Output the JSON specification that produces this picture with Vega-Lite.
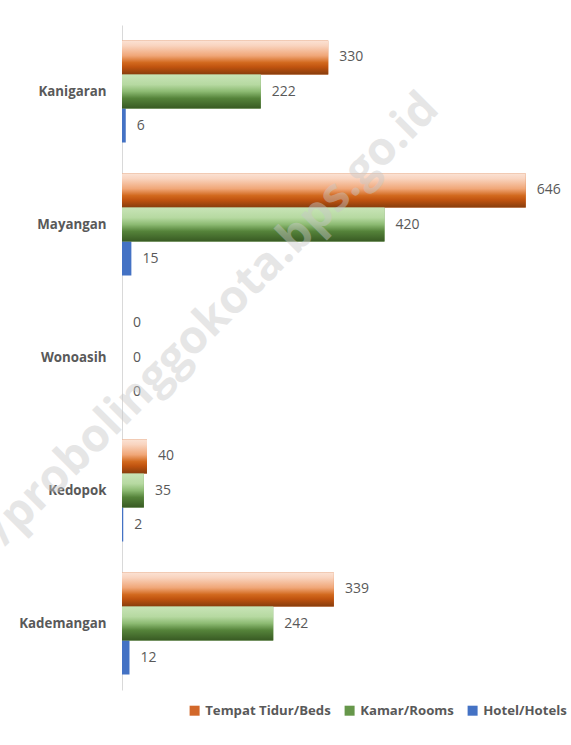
{
  "$schema": "https://vega.github.io/schema/vega-lite/v6.json",
  "width": 437.5,
  "height": 665,
  "autosize": {"type": "none"},
  "padding": {"left": 122, "top": 25, "right": 11.5, "bottom": 55},
  "background": "white",
  "datasets": {
    "main": [
      {"cat": "Kanigaran", "series": "Tempat Tidur/Beds", "value": 330},
      {"cat": "Kanigaran", "series": "Kamar/Rooms", "value": 222},
      {"cat": "Kanigaran", "series": "Hotel/Hotels", "value": 6},
      {"cat": "Mayangan", "series": "Tempat Tidur/Beds", "value": 646},
      {"cat": "Mayangan", "series": "Kamar/Rooms", "value": 420},
      {"cat": "Mayangan", "series": "Hotel/Hotels", "value": 15},
      {"cat": "Wonoasih", "series": "Tempat Tidur/Beds", "value": 0},
      {"cat": "Wonoasih", "series": "Kamar/Rooms", "value": 0},
      {"cat": "Wonoasih", "series": "Hotel/Hotels", "value": 0},
      {"cat": "Kedopok", "series": "Tempat Tidur/Beds", "value": 40},
      {"cat": "Kedopok", "series": "Kamar/Rooms", "value": 35},
      {"cat": "Kedopok", "series": "Hotel/Hotels", "value": 2},
      {"cat": "Kademangan", "series": "Tempat Tidur/Beds", "value": 339},
      {"cat": "Kademangan", "series": "Kamar/Rooms", "value": 242},
      {"cat": "Kademangan", "series": "Hotel/Hotels", "value": 12}
    ],
    "mark": [
      {"cat": "Kanigaran", "value": 510, "label": "https://probolinggokota.bps.go.id"}
    ]
  },
  "layer": [
    {
      "data": {"name": "main"},
      "mark": {"type": "bar"},
      "encoding": {
        "y": {
          "field": "cat", "type": "nominal",
          "sort": ["Kanigaran", "Mayangan", "Wonoasih", "Kedopok", "Kademangan"],
          "scale": {"domain": ["Kanigaran", "Mayangan", "Wonoasih", "Kedopok", "Kademangan"], "paddingInner": 0.233, "paddingOuter": 0.1165},
          "axis": {"title": null, "domainColor": "#d9d9d9", "domainWidth": 1, "ticks": false, "tickSize": 0, "labelPadding": 16, "labelFont": "Open Sans", "labelFontWeight": "bold", "labelFontSize": 13.3, "labelColor": "#595959", "grid": false}
        },
        "yOffset": {
          "field": "series", "type": "nominal",
          "scale": {"domain": ["Tempat Tidur/Beds", "Kamar/Rooms", "Hotel/Hotels"], "paddingInner": 0, "paddingOuter": 0}
        },
        "x": {
          "field": "value", "type": "quantitative",
          "scale": {"domain": [0, 700], "nice": false},
          "axis": null
        },
        "color": {
          "field": "series", "type": "nominal",
          "scale": {"domain": ["Tempat Tidur/Beds", "Kamar/Rooms", "Hotel/Hotels"], "range": ["#d2682a", "#66974a", "#4472c4"]},
          "legend": {
            "orient": "none", "legendX": 66, "legendY": 679, "direction": "horizontal",
            "title": null, "symbolType": "square", "symbolSize": 100, "symbolStrokeWidth": 0,
            "labelFont": "Open Sans", "labelFontWeight": "bold", "labelFontSize": 13.2, "labelColor": "#595959",
            "labelOffset": 4, "columnPadding": 12, "padding": 0, "labelLimit": 200
          }
        }
      }
    },
    {
      "data": {"name": "main"},
      "transform": [{"filter": "datum.series === 'Tempat Tidur/Beds'"}],
      "mark": {"type": "bar", "color": {"gradient": "linear", "x1": 0, "y1": 0, "x2": 0, "y2": 1, "stops": [{"offset": 0, "color": "#fbe2d4"}, {"offset": 0.15, "color": "#f9d4bf"}, {"offset": 0.45, "color": "#f0a677"}, {"offset": 0.65, "color": "#d2691e"}, {"offset": 0.78, "color": "#c0530f"}, {"offset": 1, "color": "#873d0d"}]}},
      "encoding": {
        "y": {"field": "cat", "type": "nominal", "sort": ["Kanigaran", "Mayangan", "Wonoasih", "Kedopok", "Kademangan"]},
        "yOffset": {"field": "series", "type": "nominal", "scale": {"domain": ["Tempat Tidur/Beds", "Kamar/Rooms", "Hotel/Hotels"]}},
        "x": {"field": "value", "type": "quantitative", "axis": null}
      }
    },
    {
      "data": {"name": "main"},
      "transform": [{"filter": "datum.series === 'Kamar/Rooms'"}],
      "mark": {"type": "bar", "color": {"gradient": "linear", "x1": 0, "y1": 0, "x2": 0, "y2": 1, "stops": [{"offset": 0, "color": "#c8e4b7"}, {"offset": 0.3, "color": "#b6d9a1"}, {"offset": 0.5, "color": "#8cba72"}, {"offset": 0.7, "color": "#55833a"}, {"offset": 1, "color": "#385a23"}]}},
      "encoding": {
        "y": {"field": "cat", "type": "nominal", "sort": ["Kanigaran", "Mayangan", "Wonoasih", "Kedopok", "Kademangan"]},
        "yOffset": {"field": "series", "type": "nominal", "scale": {"domain": ["Tempat Tidur/Beds", "Kamar/Rooms", "Hotel/Hotels"]}},
        "x": {"field": "value", "type": "quantitative", "axis": null}
      }
    },
    {
      "data": {"name": "main"},
      "mark": {"type": "text", "align": "left", "baseline": "middle", "dx": 11, "font": "Open Sans", "fontSize": 14, "color": "#595959"},
      "encoding": {
        "y": {"field": "cat", "type": "nominal", "sort": ["Kanigaran", "Mayangan", "Wonoasih", "Kedopok", "Kademangan"]},
        "yOffset": {"field": "series", "type": "nominal", "scale": {"domain": ["Tempat Tidur/Beds", "Kamar/Rooms", "Hotel/Hotels"]}},
        "x": {"field": "value", "type": "quantitative", "axis": null},
        "text": {"field": "value", "type": "quantitative"}
      }
    },
    {
      "data": {"name": "mark"},
      "mark": {"type": "text", "align": "right", "baseline": "alphabetic", "angle": -45, "font": "Open Sans", "fontWeight": "bold", "fontSize": 46, "color": "#c8c8c8", "opacity": 0.45},
      "encoding": {
        "y": {"field": "cat", "type": "nominal", "sort": ["Kanigaran", "Mayangan", "Wonoasih", "Kedopok", "Kademangan"], "bandPosition": 0.69},
        "x": {"field": "value", "type": "quantitative", "axis": null},
        "text": {"field": "label"}
      }
    }
  ],
  "config": {
    "view": {"stroke": null}
  }
}
